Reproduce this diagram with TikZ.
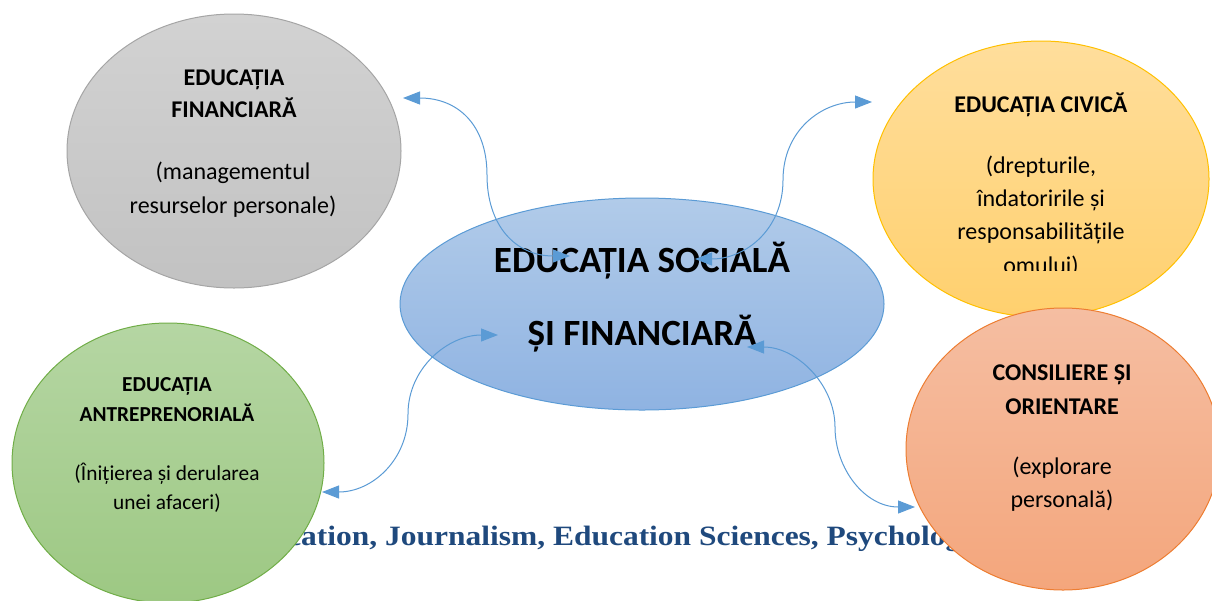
\documentclass[tikz,border=0pt]{standalone}
\usepackage{fontspec}
\setmainfont{Carlito}
\newfontfamily\footfont{Liberation Serif}
\usetikzlibrary{shapes.geometric,arrows.meta}
\definecolor{connblue}{HTML}{5B9BD5}
\definecolor{footblue}{HTML}{1F497D}
\definecolor{greyT}{HTML}{D2D2D2}\definecolor{greyB}{HTML}{C2C2C2}\definecolor{greyD}{HTML}{A5A5A5}
\definecolor{blueT}{HTML}{B1CBE9}\definecolor{blueB}{HTML}{8FB3E2}\definecolor{blueD}{HTML}{5B9BD5}
\definecolor{yelT}{HTML}{FFDE9C}\definecolor{yelB}{HTML}{FFD06E}\definecolor{yelD}{HTML}{FFC000}
\definecolor{grnT}{HTML}{B5D6A3}\definecolor{grnB}{HTML}{9DC883}\definecolor{grnD}{HTML}{70AD47}
\definecolor{orT}{HTML}{F5BEA2}\definecolor{orB}{HTML}{F4A67C}\definecolor{orD}{HTML}{ED7D31}
\tikzset{
  bubble/.style={ellipse, inner sep=0pt, line width=0.75pt},
  conn/.style={draw=connblue, line width=0.75pt, {Triangle[length=12.75pt,width=9.75pt]}-{Triangle[length=12.75pt,width=9.75pt]}},
  ttl/.style={align=center, inner sep=0pt, font=\bfseries\fontsize{18}{24}\selectfont},
  dsc/.style={align=center, inner sep=0pt, font=\fontsize{18}{25.5}\selectfont},
}
\begin{document}
\begin{tikzpicture}[x=0.75pt,y=-0.75pt]
\useasboundingbox (0,0) rectangle (1212,600);
% footer text (partly hidden)
\node[anchor=base west, inner sep=0pt, text=footblue, font=\footfont\bfseries\fontsize{21}{24}\selectfont] (foot) at (287,545) {\scalebox{1.124}[1]{cation, Journalism, Education Sciences, Psycholog}};
% bubbles
\node[bubble, draw=greyD, top color=greyT, bottom color=greyB, minimum width=250.5pt, minimum height=205.5pt] (fin) at (234,151) {};
\node[bubble, draw=blueD, top color=blueT, bottom color=blueB, minimum width=363pt, minimum height=159pt] (soc) at (642,304) {};
\node[bubble, draw=yelD, top color=yelT, bottom color=yelB, minimum width=252pt, minimum height=207pt] (civ) at (1041,179) {};
\node[bubble, draw=orD, top color=orT, bottom color=orB, minimum width=235.5pt, minimum height=211.5pt] (cons) at (1063,449) {};
\node[bubble, draw=grnD, top color=grnT, bottom color=grnB, minimum width=234pt, minimum height=210pt] (antr) at (168,463) {};
% texts
\node[ttl] (finT) at (234,94) {EDUCAȚIA\\FINANCIARĂ};
\node[dsc] (finD) at (233,190) {(managementul\\resurselor personale)};
\node[align=center, inner sep=0pt, font=\bfseries\fontsize{27.75}{54.75}\selectfont] (socT) at (642,297) {EDUCAȚIA SOCIALĂ\\ȘI FINANCIARĂ};
\node[ttl] (civT) at (1041,105) {EDUCAȚIA CIVICĂ};
\begin{scope}
\clip (870,30) rectangle (1212,270.5);
\node[dsc, font=\fontsize{18}{25}\selectfont] (civD) at (1041,216) {(drepturile,\\îndatoririle și\\responsabilitățile\\omului)};
\end{scope}
\node[ttl, font=\bfseries\fontsize{16}{22.5}\selectfont] (antrT) at (167,400) {EDUCAȚIA\\ANTREPRENORIALĂ};
\node[dsc, font=\fontsize{16}{21.75}\selectfont] (antrD) at (167,488) {(Înițierea și derularea\\unei afaceri)};
\node[ttl, font=\bfseries\fontsize{18}{25.5}\selectfont] (consT) at (1062,390) {CONSILIERE ȘI\\ORIENTARE};
\node[dsc, font=\fontsize{18}{24.75}\selectfont] (consD) at (1062,484) {(explorare\\personală)};
% connector end points
\coordinate (a1s) at (403,98);  \coordinate (a1m) at (487,175); \coordinate (a1e) at (570,256);
\coordinate (a2s) at (695,259); \coordinate (a2m) at (783,180); \coordinate (a2e) at (872,102);
\coordinate (a3s) at (322,492); \coordinate (a3m) at (408,414); \coordinate (a3e) at (498,335);
\coordinate (a4s) at (747,347); \coordinate (a4m) at (835,427); \coordinate (a4e) at (915,507);
\draw[conn] (a1s) .. controls +(55,0) and +(0,-50) .. (a1m) .. controls +(0,50) and +(-55,0) .. (a1e);
\draw[conn] (a2s) .. controls +(50,0) and +(0,50) .. (a2m) .. controls +(0,-50) and +(-50,0) .. (a2e);
\draw[conn] (a3s) .. controls +(50,0) and +(0,46) .. (a3m) .. controls +(0,-46) and +(-50,0) .. (a3e);
\draw[conn] (a4s) .. controls +(50,0) and +(0,-42) .. (a4m) .. controls +(0,42) and +(-50,0) .. (a4e);
\end{tikzpicture}
\end{document}
